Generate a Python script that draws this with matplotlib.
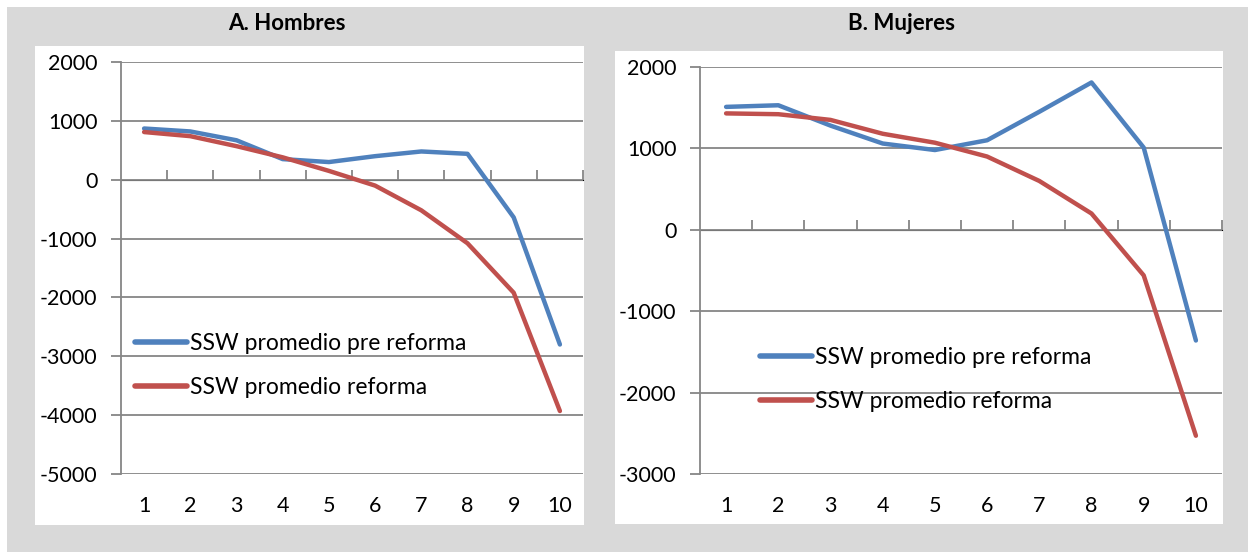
import matplotlib
matplotlib.use("Agg")
import matplotlib.pyplot as plt
from matplotlib.patches import Rectangle

plt.rcParams['font.family'] = ['Lato', 'DejaVu Sans']

deciles = [1, 2, 3, 4, 5, 6, 7, 8, 9, 10]
hombres_pre = [870, 820, 670, 350, 300, 400, 480, 440, -640, -2800]
hombres_ref = [810, 740, 570, 380, 150, -100, -520, -1080, -1920, -3930]
mujeres_pre = [1510, 1530, 1280, 1060, 980, 1100, 1450, 1810, 1010, -1360]
mujeres_ref = [1430, 1420, 1350, 1180, 1070, 900, 600, 200, -560, -2530]
label_pre = "SSW promedio pre reforma"
label_ref = "SSW promedio reforma"
titles = ["A. Hombres", "B. Mujeres"]
yticks_h = [-5000, -4000, -3000, -2000, -1000, 0, 1000, 2000]
yticks_m = [-3000, -2000, -1000, 0, 1000, 2000]

W, H = 1248, 552
fig = plt.figure(figsize=(W / 100, H / 100), dpi=100)
fig.patch.set_facecolor('white')

def fr(x0, y0, x1, y1):
    # pixel box (top-left origin) -> figure fraction rect
    return (x0 / W, 1 - y1 / H, (x1 - x0) / W, (y1 - y0) / H)

gray = '#d9d9d9'
fig.patches.append(Rectangle((7 / W, 0), 1 - 7 / W, 1 - 7 / H, transform=fig.transFigure,
                             facecolor=gray, edgecolor='none', zorder=-10))
for box in [(35, 46, 584, 525), (615, 51, 1223, 524)]:
    x, y, w, h = fr(*box)
    fig.patches.append(Rectangle((x, y), w, h, transform=fig.transFigure,
                                 facecolor='white', edgecolor='none', zorder=-9))

blue = '#4f81bd'
red = '#c0504d'
gcol = '#868686'

def setup(ax, pre, ref, yticks, legend_pos):
    ax.set_facecolor('none')
    ax.plot(deciles, pre, color=blue, lw=3.2, label=label_pre, solid_capstyle='round', zorder=3)
    ax.plot(deciles, ref, color=red, lw=3.2, label=label_ref, solid_capstyle='round', zorder=3)
    ymin, ymax = yticks[0], yticks[-1]
    ax.set_ylim(ymin, ymax)
    ax.set_xlim(0.5, 10.5)
    ax.set_yticks(yticks)
    ax.set_yticklabels([str(v) for v in yticks])
    ax.yaxis.grid(True, color=gcol, lw=1.3)
    ax.set_axisbelow(True)
    for s in ['top', 'right', 'bottom']:
        ax.spines[s].set_visible(False)
    ax.spines['left'].set_color(gcol)
    ax.spines['left'].set_linewidth(1.3)
    ax.tick_params(axis='y', colors=gcol, length=7, width=1.3, pad=10,
                   labelcolor='black', labelsize=15.5)
    ax.set_xticks(deciles)
    ax.set_xticklabels([str(d) for d in deciles])
    ax.tick_params(axis='x', length=0, pad=16, labelsize=15.5, labelcolor='black')
    # category axis crossing at zero
    loc = (0 - ymin) / (ymax - ymin)
    sec = ax.secondary_xaxis(loc)
    sec.set_xticks([d + 0.5 for d in deciles])
    sec.set_xticklabels([])
    sec.spines['bottom'].set_color(gcol)
    sec.spines['bottom'].set_linewidth(1.3)
    sec.tick_params(axis='x', direction='out', length=7, width=1.3, colors=gcol)
    leg = ax.legend(loc='upper left', bbox_to_anchor=legend_pos, bbox_transform=fig.transFigure,
                    frameon=False, fontsize=16.5, handlelength=2.25, handletextpad=0.15,
                    labelspacing=1.0, borderpad=0, borderaxespad=0)
    for line in leg.get_lines():
        line.set_linewidth(4)
    return ax

ax1 = fig.add_axes(fr(121, 62, 583, 474))
setup(ax1, hombres_pre, hombres_ref, yticks_h, (135 / W, 1 - 333 / H))
ax2 = fig.add_axes(fr(700, 67, 1222, 474))
setup(ax2, mujeres_pre, mujeres_ref, yticks_m, (760 / W, 1 - 347 / H))

fig.text(287 / W, 1 - 24 / H, titles[0], ha='center', va='center', fontsize=16, fontweight='bold')
fig.text(902 / W, 1 - 24 / H, titles[1], ha='center', va='center', fontsize=16, fontweight='bold')

fig.savefig('out.png', dpi=100, facecolor=fig.get_facecolor())
